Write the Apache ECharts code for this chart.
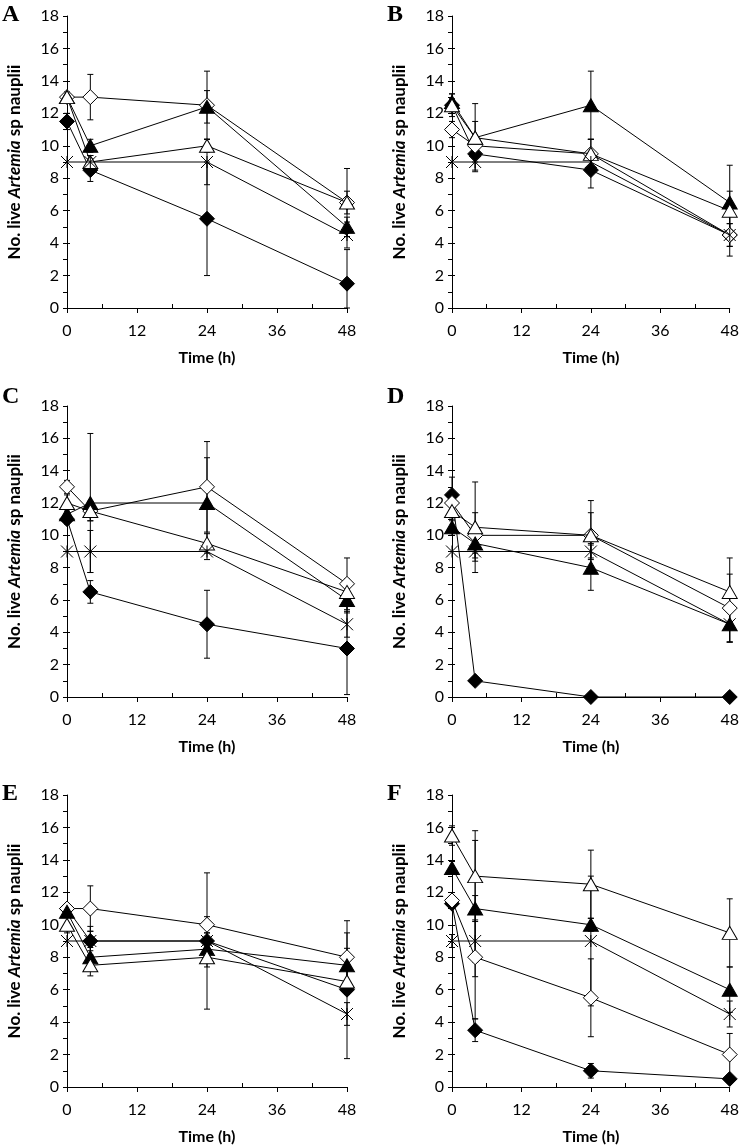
<!DOCTYPE html>
<html><head><meta charset="utf-8">
<script src="https://cdn.jsdelivr.net/npm/echarts@6/dist/echarts.min.js"></script>
<style>html,body{margin:0;padding:0;background:#fff}#c{width:742px;height:1147px}</style>
</head><body><div id="c"></div>
<script>
// ---- data ----
const panelLabels = ['A', 'B', 'C', 'D', 'E', 'F'];
const times = [0, 4, 24, 48];
const xTicks = [0, 12, 24, 36, 48];
const yTicks = [0, 2, 4, 6, 8, 10, 12, 14, 16, 18];

// means per panel (A..F), at times 0,4,24,48
const filledDiamond = [
  [11.5, 8.5, 5.5, 1.5], [12.5, 9.5, 8.5, 4.5], [11, 6.5, 4.5, 3],
  [12.5, 1, 0, 0], [11, 9, 9, 6], [11.3, 3.5, 1, 0.5]];
const openDiamond = [
  [13, 13, 12.5, 6.5], [11, 10, 9.5, 4.5], [13, 11.5, 13, 7],
  [12, 10, 10, 5.5], [11, 11, 10, 8], [11.5, 8, 5.5, 2]];
const filledTriangle = [
  [13, 10, 12.4, 5], [12.7, 10.5, 12.5, 6.5], [11.3, 12, 12, 6],
  [10.5, 9.5, 8, 4.5], [10.8, 8, 8.5, 7.5], [13.5, 11, 10, 6]];
const openTriangle = [
  [13, 9, 10, 6.5], [12.5, 10.5, 9.5, 6], [12, 11.5, 9.5, 6.5],
  [11.5, 10.5, 10, 6.5], [10, 7.5, 8, 6.5], [15.5, 13, 12.5, 9.5]];
const star = [
  [9, 9, 9, 4.5], [9, 9, 9, 4.5], [9, 9, 9, 4.5],
  [9, 9, 9, 4.5], [9, 9, 9, 4.5], [9, 9, 9, 4.5]];

// symmetric error bars
const filledDiamondErr = [
  [0.5, 0.7, 3.5, 2.1], [0.4, 0.5, 1.1, 0.7], [0.3, 0.7, 2.1, 2.85],
  [1.1, 0, 0, 0], [0.3, 0.9, 4.2, 4.25], [0.3, 0.7, 0.45, 0.2]];
const openDiamondErr = [
  [0.3, 1.4, 2.1, 2.1], [0.5, 0.6, 0.9, 0.7], [0.4, 0.6, 2.8, 1.6],
  [0.4, 1.4, 1.4, 2.1], [0.3, 1.4, 0.5, 1.5], [0.3, 3.8, 2.4, 1.3]];
const filledTriangleErr = [
  [0.3, 0.4, 1.0, 0.6], [0.5, 2.1, 2.1, 2.3], [0.4, 4.3, 2.8, 0.8],
  [0.5, 0.6, 1.4, 1.1], [0.3, 0.6, 0.6, 1.05], [0.4, 4.2, 0.4, 1.4]];
const openTriangleErr = [
  [0.3, 0.4, 0.4, 0.7], [0.7, 1.0, 0.9, 1.2], [0.5, 0.6, 0.6, 0.8],
  [0.6, 2.8, 2.15, 2.1], [0.5, 0.65, 0.6, 0.8], [0.6, 2.8, 2.1, 2.1]];
const starErr = [
  [0, 0.4, 1.4, 0.8], [0, 0.5, 0.5, 1.3], [0, 1.3, 0.5, 0.8],
  [0, 0.6, 0.5, 1.1], [0, 0.6, 0.5, 0.7], [0.4, 1.3, 4.0, 0.8]];

// ---- layout ----
const grids = [
  {left: 67, top: 16, width: 280, height: 292},
  {left: 452, top: 16, width: 281, height: 292},
  {left: 67, top: 406, width: 280, height: 291},
  {left: 452, top: 406, width: 281, height: 291},
  {left: 67, top: 795, width: 280, height: 292},
  {left: 452, top: 795, width: 281, height: 292}
];
const letterPos = [[2, 3], [387, 3], [2, 385], [387, 385], [2, 782], [387, 782]];

const FONT = 'Lato';
const defs = [
  {name: 'filledDiamond', m: filledDiamond, e: filledDiamondErr, symbol: 'diamond', size: 15, fill: '#000'},
  {name: 'openDiamond', m: openDiamond, e: openDiamondErr, symbol: 'diamond', size: 15, fill: '#fff'},
  {name: 'filledTriangle', m: filledTriangle, e: filledTriangleErr, symbol: 'triangle', size: [15, 13], fill: '#000'},
  {name: 'openTriangle', m: openTriangle, e: openTriangleErr, symbol: 'triangle', size: [15, 13], fill: '#fff'},
  {name: 'star', m: star, e: starErr, symbol: 'path://M0,0L10,10M10,0L0,10M5,0L5,10', size: 12, fill: '#000'}
];

const xAxis = [], yAxis = [], series = [], graphic = [];
grids.forEach((g, i) => {
  xAxis.push({
    gridIndex: i, type: 'value', min: 0, max: 48, interval: 12, position: 'bottom',
    name: 'Time (h)', nameLocation: 'middle', nameGap: 42,
    nameTextStyle: {fontFamily: FONT, fontWeight: 'bold', fontSize: 16, color: '#000'},
    axisLine: {show: true, onZero: false, lineStyle: {color: '#000', width: 1}},
    axisTick: {show: true, inside: false, length: 5, lineStyle: {color: '#000'}},
    axisLabel: {fontFamily: FONT, fontSize: 16, color: '#000', margin: 15},
    splitLine: {show: false}
  });
  yAxis.push({
    gridIndex: i, type: 'value', min: 0, max: 18, interval: 2, position: 'left',
    name: '{b|No. live }{i|Artemia}{b| sp nauplii}', nameLocation: 'middle', nameGap: 44,
    nameTextStyle: {fontFamily: FONT, fontSize: 17, color: '#000',
      rich: {b: {fontFamily: FONT, fontWeight: 'bold', fontSize: 17, color: '#000'},
             i: {fontFamily: FONT, fontWeight: 'bold', fontStyle: 'italic', fontSize: 17, color: '#000'}}},
    axisLine: {show: true, onZero: false, lineStyle: {color: '#000', width: 1}},
    axisTick: {show: true, inside: false, length: 4, lineStyle: {color: '#000'}},
    minorTick: {show: true, splitNumber: 2, length: 4, lineStyle: {color: '#000'}},
    axisLabel: {fontFamily: FONT, fontSize: 16, color: '#000', margin: 8},
    splitLine: {show: false}, minorSplitLine: {show: false}
  });
  graphic.push({type: 'text', left: letterPos[i][0], top: letterPos[i][1],
    style: {text: panelLabels[i], font: 'bold 24px "Liberation Serif"', fill: '#000'}});
});
// secondary axes for inside ticks
grids.forEach((g, i) => {
  xAxis.push({
    gridIndex: i, type: 'value', min: 0, max: 48, interval: 6, position: 'bottom',
    axisLine: {show: false, onZero: false},
    axisTick: {show: true, inside: true, length: 4, customValues: [6, 18, 30, 42], lineStyle: {color: '#000'}},
    axisLabel: {show: false}, splitLine: {show: false}
  });
  yAxis.push({
    gridIndex: i, type: 'value', min: 0, max: 18, interval: 2, position: 'left',
    axisLine: {show: false, onZero: false},
    axisTick: {show: true, inside: true, length: 3, customValues: yTicks.slice(1, 9), lineStyle: {color: '#000'}},
    axisLabel: {show: false}, splitLine: {show: false}
  });
});

grids.forEach((g, i) => {
  // error bars
  const ebData = [];
  defs.forEach(d => {
    times.forEach((t, k) => { if (d.e[i][k] > 0) ebData.push([t, d.m[i][k], d.e[i][k]]); });
  });
  series.push({
    type: 'custom', xAxisIndex: i, yAxisIndex: i, z: 1, silent: true,
    encode: {x: 0, y: 1},
    data: ebData,
    renderItem: function (params, api) {
      const x = api.value(0), m = api.value(1), e = api.value(2);
      const hi = api.coord([x, m + e]);
      const lo = api.coord([x, Math.max(0, m - e)]);
      const w = 3;
      const st = {stroke: '#000', lineWidth: 1};
      return {type: 'group', children: [
        {type: 'line', shape: {x1: hi[0], y1: hi[1], x2: lo[0], y2: lo[1]}, style: st},
        {type: 'line', shape: {x1: hi[0] - w, y1: hi[1], x2: hi[0] + w, y2: hi[1]}, style: st},
        {type: 'line', shape: {x1: lo[0] - w, y1: lo[1], x2: lo[0] + w, y2: lo[1]}, style: st}
      ]};
    }
  });
  defs.forEach((d, s) => {
    series.push({
      type: 'line', name: d.name, xAxisIndex: i, yAxisIndex: i, z: 3 + s,
      data: times.map((t, k) => [t, d.m[i][k]]),
      symbol: d.symbol, symbolSize: d.size, showAllSymbol: true,
      lineStyle: {color: '#000', width: 1},
      itemStyle: {color: d.fill, borderColor: '#000', borderWidth: 1},
      emphasis: {disabled: true}, animation: false, clip: false
    });
  });
});

const chart = echarts.init(document.getElementById('c'), null, {renderer: 'canvas'});
chart.setOption({
  animation: false, backgroundColor: '#fff',
  grid: grids, xAxis: xAxis, yAxis: yAxis, series: series, graphic: graphic
});
</script></body></html>
